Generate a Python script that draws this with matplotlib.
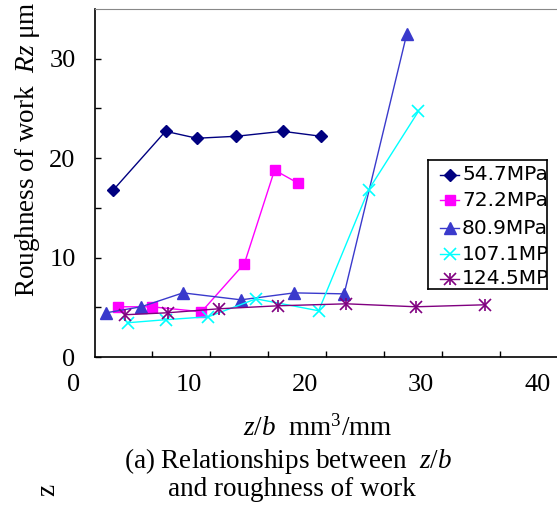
"""
Roughness of work Rz vs. z/b for several grinding pressures.
"""

import numpy as np
import matplotlib
matplotlib.use('Agg')
import matplotlib.pyplot as plt

plt.rcParams['font.family'] = ['Liberation Serif', 'DejaVu Serif']
plt.rcParams['mathtext.fontset'] = 'custom'
plt.rcParams['mathtext.rm'] = 'Liberation Serif'
plt.rcParams['mathtext.it'] = 'Liberation Serif:italic'

# data (z/b in mm3/mm, Rz in um)
x_547 = [3.3, 7.8, 10.5, 13.9, 17.9, 21.2]
y_547 = [16.8, 22.7, 22.0, 22.2, 22.7, 22.2]

x_722 = [3.7, 6.6, 10.9, 14.6, 17.2, 19.2]
y_722 = [5.05, 5.05, 4.55, 9.4, 18.8, 17.5]

x_809 = [2.7, 5.7, 9.3, 14.3, 18.9, 23.2, 28.6]
y_809 = [4.45, 5.05, 6.45, 5.75, 6.45, 6.35, 32.5]

x_1071 = [4.6, 7.8, 11.5, 15.6, 21.0, 25.3, 29.6]
y_1071 = [3.45, 3.75, 4.05, 5.85, 4.65, 16.8, 24.7]

x_1245 = [4.3, 8.0, 12.4, 17.5, 23.4, 29.4, 35.3]
y_1245 = [4.25, 4.45, 4.85, 5.15, 5.35, 5.05, 5.25]

series_labels = ['54.7MPa', '72.2MPa', '80.9MPa', '107.1MPa', '124.5MPa']
xtick_labels = [0, 10, 20, 30, 40]
ytick_labels = [0, 10, 20, 30]

styles = [
    dict(color='#000080', marker='D', ms=6),
    dict(color='#FF00FF', marker='s', ms=7.5),
    dict(color='#3A3ACC', marker='^', ms=8),
    dict(color='#00FFFF', marker='x', ms=8, mew=1.2),
    dict(color='#800080', marker='x', ms=8, mew=1.2),
]

FS = 19.5

fig = plt.figure(figsize=(5.57, 5.05), dpi=100)
ax = fig.add_axes([95 / 557, 148 / 505, 462 / 557, 348 / 505])

all_x = [x_547, x_722, x_809, x_1071, x_1245]
all_y = [y_547, y_722, y_809, y_1071, y_1245]
for xs, ys, st in zip(all_x, all_y, styles):
    ax.plot(xs, ys, lw=1.0, clip_on=False, **st)
# the purple asterisk: x plus a vertical bar
ax.plot(x_1245, y_1245, ls='none', marker='|', ms=8, mew=1.2, color='#800080')

ax.set_xlim(1.72, 41.55)
ax.set_ylim(0, 35)

ax.spines['right'].set_visible(False)
ax.spines['top'].set_color('#888888')
ax.spines['left'].set_linewidth(1.2)
ax.spines['bottom'].set_linewidth(1.2)

ax.set_xticks(np.arange(6.6, 40, 5))
ax.set_xticklabels([])
ax.set_yticks(np.arange(0, 31, 5))
ax.set_yticklabels([str(v) if v in ytick_labels else '' for v in range(0, 31, 5)])
ax.tick_params(direction='in', length=4, width=1, labelsize=FS - 0.5, pad=14)

# x tick labels sit slightly left of the tick marks in the original
for v in xtick_labels:
    ax.text(v - 0.15, -0.08, str(v), transform=ax.get_xaxis_transform(),
            ha='center', va='center', fontsize=FS - 0.5, clip_on=False)

fig.text(28 / 557, 1 - 149 / 505, r'Roughness of work  $\mathit{Rz}$ μm',
         rotation=90, ha='center', va='center', fontsize=FS)
fig.text(318 / 557, 1 - 428 / 505, r'$\mathit{z/b}$  mm$^3$/mm',
         ha='center', va='center', fontsize=FS)
fig.text(288 / 557, 1 - 461 / 505, r'(a) Relationships between  $\mathit{z/b}$',
         ha='center', va='center', fontsize=FS)
fig.text(292 / 557, 1 - 490 / 505, 'and roughness of work',
         ha='center', va='center', fontsize=FS)
fig.text(48 / 557, 1 - 490 / 505, 'z', rotation=90,
         ha='center', va='center', fontsize=FS)

# hand-made legend box, text clipped at the frame like the original
lg = fig.add_axes([428 / 557, 1 - 289 / 505, 119 / 557, 129 / 505])
lg.set_xlim(0, 119)
lg.set_ylim(129, 0)
lg.set_xticks([])
lg.set_yticks([])
for s in lg.spines.values():
    s.set_linewidth(1.2)
row_y = [15, 40, 68, 94, 119]
for ry, lab, st in zip(row_y, series_labels, styles):
    lg.plot([12, 31], [ry, ry], lw=1.0, color=st['color'])
    lg.plot([22], [ry], ls='none', **st)
    lg.text(34, ry, lab, ha='left', va='center', fontsize=14.5,
            family='DejaVu Sans', clip_on=True)
lg.plot([22], [row_y[-1]], ls='none', marker='|', ms=8, mew=1.2, color='#800080')

fig.savefig('out.png', dpi=100)
